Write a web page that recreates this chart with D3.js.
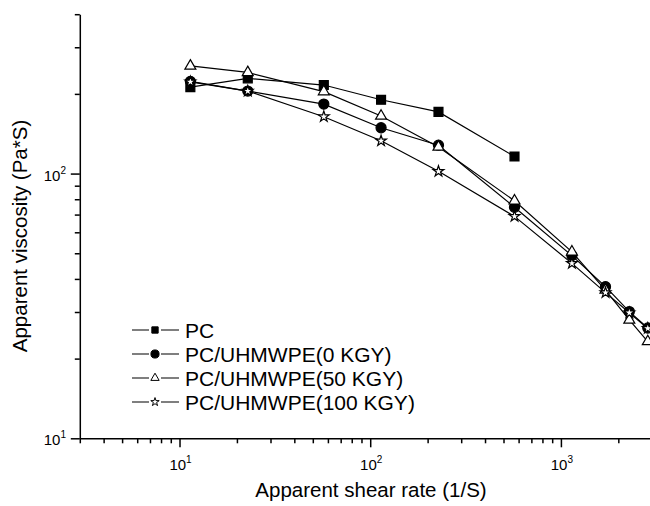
<!DOCTYPE html>
<html>
<head>
<meta charset="utf-8">
<script src="https://cdn.jsdelivr.net/npm/d3@7"></script>
<style>
  html, body { margin: 0; padding: 0; background: #fff; }
  svg { display: block; font-family: Arial, "Liberation Sans", sans-serif; }
</style>
</head>
<body>
<svg id="chart" width="650" height="506"></svg>
<script>
// Shear rates (1/s) at which viscosity was measured
const shearRate = [11.4, 22.8, 57.1, 114, 228, 571, 1142, 1713, 2284, 2855];

// Apparent viscosity (Pa*s) for each material
const pcVisc      = [212, 229, 216, 190, 171, 116];
const uh0Visc     = [223, 205, 183, 149, 128, 74.6, 49, 37.4, 30.1, 26.1];
const uh50Visc    = [255, 241, 204, 165, 126, 78.9, 50.6, 36.3, 28, 23.2];
const uh100Visc   = [222, 205, 164, 133, 102, 68.9, 45.8, 35.5, 29.8, 26];

const seriesNames = ["PC", "PC/UHMWPE(0 KGY)", "PC/UHMWPE(50 KGY)", "PC/UHMWPE(100 KGY)"];
const seriesValues = [pcVisc, uh0Visc, uh50Visc, uh100Visc];

// Axis ticks
const xMajor = [10, 100, 1000];
const xMinor = [3, 4, 5, 6, 7, 8, 9, 20, 30, 40, 50, 60, 70, 80, 90,
                200, 300, 400, 500, 600, 700, 800, 900, 2000, 3000];
const yMajor = [10, 100];
const yMinor = [20, 30, 40, 50, 60, 70, 80, 90, 200, 300, 400];

const svg = d3.select("#chart");

const x = d3.scaleLog().domain([3, 3000]).range([79.8, 651.9]);
const y = d3.scaleLog().domain([10, 400]).range([438.3, 14.2]);

const symbolDefs = [
  { type: d3.symbolSquare,   size: 80, fill: "#000", lsize: 40 },
  { type: d3.symbolCircle,   size: 80, fill: "#000", lsize: 52 },
  { type: d3.symbolTriangle, size: 52, fill: "#fff", lsize: 30 },
  { type: d3.symbolStar,     size: 36, fill: "#fff", lsize: 22 }
];

// ---- axes ----
function styleAxis(g) {
  g.select(".domain").attr("stroke", "#000").attr("stroke-width", 1.5);
  g.selectAll(".tick line").attr("stroke", "#000").attr("stroke-width", 1.5);
  g.selectAll(".tick text").remove();
}

svg.append("g").attr("transform", `translate(0,${y.range()[0]})`)
  .call(d3.axisBottom(x).tickValues(xMinor).tickSize(5).tickSizeOuter(0).tickFormat(""))
  .call(styleAxis);
svg.append("g").attr("transform", `translate(0,${y.range()[0]})`)
  .call(d3.axisBottom(x).tickValues(xMajor).tickSize(9).tickSizeOuter(0).tickFormat(""))
  .call(g => { styleAxis(g); g.select(".domain").remove(); });

svg.append("g").attr("transform", `translate(${x.range()[0]},0)`)
  .call(d3.axisLeft(y).tickValues(yMinor).tickSize(5).tickSizeOuter(0).tickFormat(""))
  .call(styleAxis);
svg.append("g").attr("transform", `translate(${x.range()[0]},0)`)
  .call(d3.axisLeft(y).tickValues(yMajor).tickSize(9).tickSizeOuter(0).tickFormat(""))
  .call(g => { styleAxis(g); g.select(".domain").remove(); });

// power-of-ten tick labels
function powLabel(sel) {
  sel.each(function(d) {
    const t = d3.select(this);
    t.append("tspan").text("10");
    t.append("tspan").attr("font-size", 10).attr("dy", -7).text(Math.round(Math.log10(d)));
  });
}

svg.append("g").selectAll("text").data(xMajor).join("text")
  .attr("x", d => x(d) + 1)
  .attr("y", 470)
  .attr("text-anchor", "middle")
  .attr("font-size", 15)
  .call(powLabel);

svg.append("g").selectAll("text").data(yMajor).join("text")
  .attr("x", 66)
  .attr("y", d => y(d) + 7)
  .attr("text-anchor", "end")
  .attr("font-size", 15)
  .call(powLabel);

// axis titles
svg.append("text")
  .attr("x", 371).attr("y", 497)
  .attr("text-anchor", "middle")
  .attr("font-size", 20.5)
  .text("Apparent shear rate (1/S)");

svg.append("text")
  .attr("transform", "translate(27,236) rotate(-90)")
  .attr("text-anchor", "middle")
  .attr("font-size", 20.5)
  .text("Apparent viscosity (Pa*S)");

// ---- series ----
const line = d3.line().x(d => x(d[0])).y(d => y(d[1]));

seriesValues.forEach((vals, i) => {
  const pts = vals.map((v, j) => [shearRate[j], v]);
  const g = svg.append("g");
  g.append("path")
    .datum(pts)
    .attr("d", line)
    .attr("fill", "none")
    .attr("stroke", "#000")
    .attr("stroke-width", 1.2);
  const s = symbolDefs[i];
  g.selectAll("path.m").data(pts).join("path")
    .attr("class", "m")
    .attr("transform", d => `translate(${x(d[0])},${y(d[1])})`)
    .attr("d", d3.symbol().type(s.type).size(s.size))
    .attr("fill", s.fill)
    .attr("stroke", "#000")
    .attr("stroke-width", 1.2);
});

// ---- legend ----
const legend = svg.append("g");
seriesNames.forEach((name, i) => {
  const ly = 330 + i * 24;
  const s = symbolDefs[i];
  legend.append("line")
    .attr("x1", 132).attr("x2", 179).attr("y1", ly).attr("y2", ly)
    .attr("stroke", "#000").attr("stroke-width", 1.2);
  legend.append("rect")
    .attr("x", 149).attr("y", ly - 6).attr("width", 12).attr("height", 12)
    .attr("fill", "#fff");
  legend.append("path")
    .attr("transform", `translate(155,${ly})`)
    .attr("d", d3.symbol().type(s.type).size(s.lsize))
    .attr("fill", s.fill)
    .attr("stroke", "#000")
    .attr("stroke-width", 1);
  legend.append("text")
    .attr("x", 185).attr("y", ly + 7.5)
    .attr("font-size", 21)
    .text(name);
});
</script>
</body>
</html>
